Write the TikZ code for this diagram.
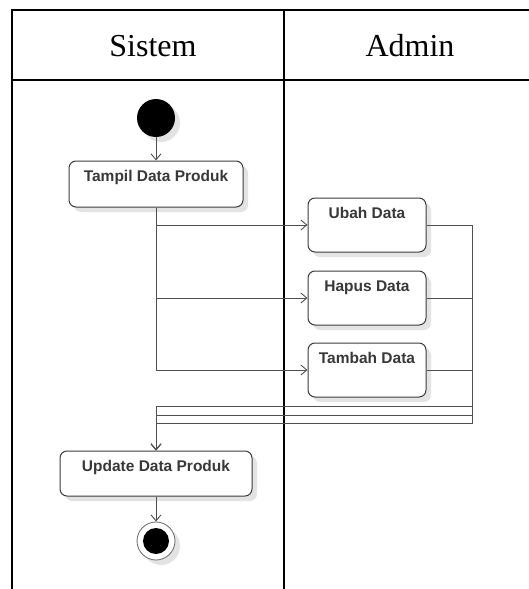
\documentclass[tikz,border=0pt]{standalone}
\usepackage{fontspec}
\setmainfont{Liberation Serif}
\newfontfamily\boxfont{Liberation Sans}
\usetikzlibrary{arrows.meta, positioning, shadows}
\definecolor{garis}{HTML}{505050}
\definecolor{tepi}{HTML}{3C3C3C}

\tikzset{
  lane/.style={line width=1.7pt, line cap=rect},
  judul/.style={font=\fontsize{32}{36}\selectfont, inner sep=0pt},
  bayang/.style={drop shadow={shadow xshift=5pt, shadow yshift=-5pt, fill=black!22, opacity=.5}},
  aktivitas/.style={draw=tepi, line width=1pt, rounded corners=7pt, fill=white, bayang,
    font=\boxfont\bfseries\fontsize{15.5}{17}\selectfont, text=black!78,
    inner xsep=0pt, inner ysep=0pt, text height=20.5pt},
  alur/.style={draw=garis, line width=0.9pt},
  panah/.style={alur, -{Straight Barb[length=6pt, width=10pt, line width=0.9pt]}},
}

\begin{document}
\begin{tikzpicture}[x=1pt, y=-1pt]
  \useasboundingbox (0,0) rectangle (528,589);

  % Swimlane
  \draw[lane] (12,589) -- (12,10) -- (528,10);
  \draw[lane] (12,80) -- (528,80);
  \draw[lane] (284,10) -- (284,589);
  \node[judul] (sistem) at (153,46) {Sistem};
  \node[judul] (admin)  at (410,46) {Admin};

  % Awal dan akhir
  \node[circle, fill=black, minimum size=38pt, inner sep=0pt, bayang] (mulai) at (156,118) {};
  \node[circle, draw=black!55, line width=0.9pt, fill=white, minimum size=38pt, inner sep=0pt, bayang] (selesai) at (156,541) {};
  \fill (selesai.center) circle (13pt);

  % Aktivitas
  \node[aktivitas, minimum width=174pt, text depth=25.5pt] (tampil) at (156,184) {Tampil Data Produk};
  \node[aktivitas, minimum width=118pt, text depth=33.5pt] (ubah)   at (367,225) {Ubah Data};
  \node[aktivitas, minimum width=118pt, text depth=33.5pt] (hapus)  at (367,298) {Hapus Data};
  \node[aktivitas, minimum width=118pt, text depth=33.5pt] (tambah) at (367,370) {Tambah Data};
  \node[aktivitas, minimum width=192pt, text depth=24.5pt] (update) at (156,473.5) {Update Data Produk};

  % Titik belok di kanan
  \coordinate (kanan1) at (472,406);
  \coordinate (kanan2) at (472,415);
  \coordinate (kanan3) at (472,423);

  % Alur
  \draw[panah] (mulai) -- (tampil);
  \draw[panah] (tampil.south) |- (ubah);
  \draw[panah] (tampil.south) |- (hapus);
  \draw[panah] (tampil.south) |- (tambah);
  \draw[panah] (ubah)   -| (kanan1) -| (update);
  \draw[panah] (hapus)  -| (kanan2) -| (update);
  \draw[panah] (tambah) -| (kanan3) -| (update);
  \draw[panah] (update) -- (selesai);
\end{tikzpicture}
\end{document}
